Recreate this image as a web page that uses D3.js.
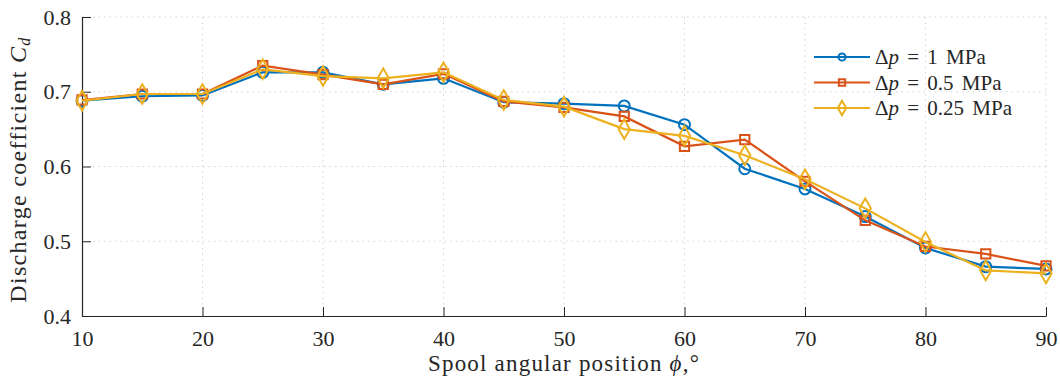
<!DOCTYPE html>
<html>
<head>
<meta charset="utf-8">
<script src="https://cdn.jsdelivr.net/npm/d3@7"></script>
<style>
  body { margin: 0; background: #fff; }
  svg text { font-family: "Liberation Serif", "DejaVu Serif", serif; fill: #262626; }
</style>
</head>
<body>
<div id="chart"></div>
<script>
// Data
const angles = [10, 15, 20, 25, 30, 35, 40, 45, 50, 55, 60, 65, 70, 75, 80, 85, 90]
const cd1 = [0.688, 0.694, 0.695, 0.726, 0.726, 0.710, 0.718, 0.686, 0.684, 0.681, 0.656, 0.597, 0.570, 0.533, 0.491, 0.466, 0.463]
const cd05 = [0.689, 0.697, 0.697, 0.735, 0.723, 0.710, 0.724, 0.687, 0.679, 0.667, 0.627, 0.636, 0.580, 0.528, 0.493, 0.483, 0.467]
const cd025 = [0.688, 0.697, 0.697, 0.730, 0.721, 0.718, 0.726, 0.689, 0.680, 0.650, 0.641, 0.615, 0.583, 0.544, 0.499, 0.461, 0.457]
const seriesNames = ['1 MPa', '0.5 MPa', '0.25 MPa']
const xTicks = [10, 20, 30, 40, 50, 60, 70, 80, 90]
const yTicks = [0.4, 0.5, 0.6, 0.7, 0.8]

const series = [
  { name: seriesNames[0], values: cd1, color: '#0072BD', marker: 'circle' },
  { name: seriesNames[1], values: cd05, color: '#D95319', marker: 'square' },
  { name: seriesNames[2], values: cd025, color: '#EDB120', marker: 'diamond' },
]

// Dimensions
const dimensions = {
  width: 1060,
  height: 388,
  left: 82,
  right: 14,
  top: 17,
  bottom: 72,
}
dimensions.ctrWidth = dimensions.width - dimensions.left - dimensions.right
dimensions.ctrHeight = dimensions.height - dimensions.top - dimensions.bottom

const svg = d3.select('#chart')
  .append('svg')
  .attr('width', dimensions.width)
  .attr('height', dimensions.height)

const ctr = svg.append('g')
  .attr('transform', `translate(${dimensions.left}, ${dimensions.top})`)

// Scales
const xScale = d3.scaleLinear().domain([10, 90]).range([0, dimensions.ctrWidth])
const yScale = d3.scaleLinear().domain([0.4, 0.8]).range([dimensions.ctrHeight, 0])

// Grid
const grid = ctr.append('g')
grid.selectAll('.gx')
  .data(xTicks.slice(1))
  .join('line')
  .attr('x1', d => xScale(d)).attr('x2', d => xScale(d))
  .attr('y1', 0).attr('y2', dimensions.ctrHeight)
  .attr('stroke', '#d4d4d4').attr('stroke-dasharray', '1.5,4')
grid.selectAll('.gy')
  .data(yTicks.slice(1))
  .join('line')
  .attr('x1', 0).attr('x2', dimensions.ctrWidth)
  .attr('y1', d => yScale(d)).attr('y2', d => yScale(d))
  .attr('stroke', '#d4d4d4').attr('stroke-dasharray', '1.5,4')

// Axes
const xAxis = d3.axisBottom(xScale).tickValues(xTicks).tickSizeInner(-9).tickSizeOuter(0).tickPadding(14)
const yAxis = d3.axisLeft(yScale).tickValues(yTicks).tickSizeInner(-9).tickSizeOuter(0).tickPadding(11)
  .tickFormat(d3.format('.1f'))

const xg = ctr.append('g')
  .attr('transform', `translate(0, ${dimensions.ctrHeight})`)
  .call(xAxis)
const yg = ctr.append('g').call(yAxis)

;[xg, yg].forEach(g => {
  g.attr('font-family', null)
  g.select('.domain').attr('stroke', '#262626').attr('stroke-width', 1.2)
  g.selectAll('.tick line').attr('stroke', '#262626')
  g.selectAll('.tick text').style('font-size', '22px').attr('fill', '#262626')
})

// Lines
const line = d3.line()
  .x((d, i) => xScale(angles[i]))
  .y(d => yScale(d))

const symbolFor = {
  circle: d3.symbol(d3.symbolCircle, 95),
  square: d3.symbol(d3.symbolSquare, 85),
  diamond: d3.symbol(d3.symbolDiamond, 110),
}

series.forEach(s => {
  const g = ctr.append('g')
  g.append('path')
    .attr('d', line(s.values))
    .attr('fill', 'none')
    .attr('stroke', s.color)
    .attr('stroke-width', 2.2)
  g.selectAll('path.mk')
    .data(s.values)
    .join('path')
    .attr('class', 'mk')
    .attr('transform', (d, i) => `translate(${xScale(angles[i])}, ${yScale(d)})`)
    .attr('d', symbolFor[s.marker]())
    .attr('fill', 'none')
    .attr('stroke', s.color)
    .attr('stroke-width', 2)
})

// Legend
const legend = svg.append('g').attr('transform', 'translate(814, 57)')
const rows = legend.selectAll('g')
  .data(series)
  .join('g')
  .attr('transform', (d, i) => `translate(0, ${i * 25.5})`)
rows.append('line')
  .attr('x1', 0).attr('x2', 56)
  .attr('stroke', d => d.color).attr('stroke-width', 2.2)
rows.append('path')
  .attr('transform', 'translate(28, 0)')
  .attr('d', d => d3.symbol(
    d.marker === 'circle' ? d3.symbolCircle : d.marker === 'square' ? d3.symbolSquare : d3.symbolDiamond,
    d.marker === 'circle' ? 40 : d.marker === 'square' ? 40 : 60)())
  .attr('fill', 'none')
  .attr('stroke', d => d.color)
  .attr('stroke-width', 2)
const legText = rows.append('text')
  .attr('x', 61)
  .attr('y', 7)
  .style('font-size', '21px')
  .style('word-spacing', '3px')
legText.append('tspan').text('Δ')
legText.append('tspan').style('font-style', 'italic').text('p')
legText.append('tspan').text(d => ' = ' + d.name)

// Axis labels
const xLabel = svg.append('text')
  .attr('x', dimensions.left + dimensions.ctrWidth / 2)
  .attr('y', 371)
  .attr('text-anchor', 'middle')
  .style('font-size', '23px')
  .style('letter-spacing', '1.2px')
xLabel.append('tspan').text('Spool angular position ')
xLabel.append('tspan').style('font-style', 'italic').text('ϕ')
xLabel.append('tspan').text(',°')

const yLabel = svg.append('text')
  .attr('transform', `translate(26, ${dimensions.top + dimensions.ctrHeight / 2 + 3}) rotate(-90)`)
  .attr('text-anchor', 'middle')
  .style('font-size', '24px')
  .style('letter-spacing', '1.3px')
yLabel.append('tspan').text('Discharge coefficient ')
yLabel.append('tspan').style('font-style', 'italic').text('C')
yLabel.append('tspan').style('font-style', 'italic').style('font-size', '16px').attr('dy', 4).text('d')
</script>
</body>
</html>
